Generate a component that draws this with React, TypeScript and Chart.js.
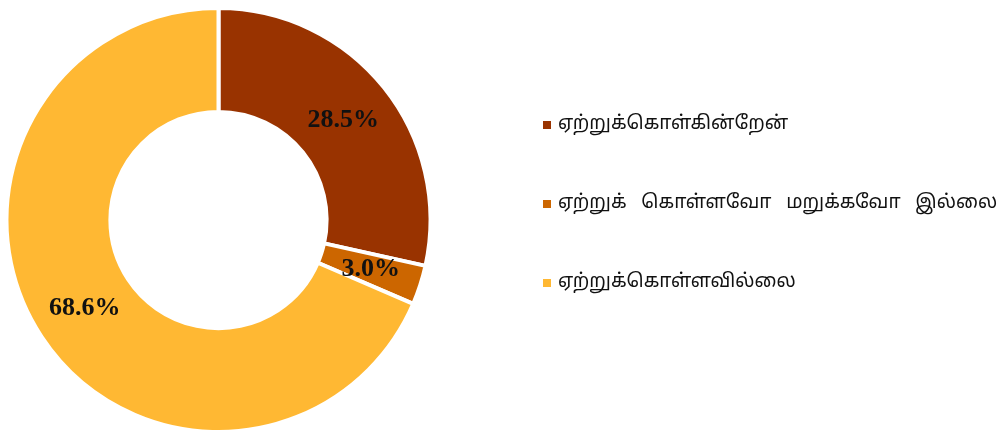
import React, { useEffect, useRef } from "react";
import { Chart, registerables } from "chart.js";

Chart.register(...registerables);

const categories = [
  "ஏற்றுக்கொள்கின்றேன்",
  "ஏற்றுக்   கொள்ளவோ   மறுக்கவோ   இல்லை",
  "ஏற்றுக்கொள்ளவில்லை",
];
const values = [28.5, 3.0, 68.6];
const valueLabels = ["28.5%", "3.0%", "68.6%"];
const colors = ["#993300", "#CC6600", "#FFB833"];

const labelPlugin = {
  id: "sliceLabels",
  afterDatasetsDraw(chart: any) {
    const ctx = chart.ctx;
    const meta = chart.getDatasetMeta(0);
    ctx.save();
    ctx.font = "bold 26px 'Liberation Serif', 'Times New Roman', serif";
    ctx.fillStyle = "#111111";
    ctx.textAlign = "center";
    ctx.textBaseline = "middle";
    meta.data.forEach((arc: any, i: number) => {
      const p = arc.tooltipPosition();
      ctx.fillText(valueLabels[i], p.x, p.y);
    });
    ctx.restore();
  },
};

const legendPlugin = {
  id: "customLegend",
  afterDraw(chart: any) {
    const ctx = chart.ctx;
    const labels = chart.data.labels as string[];
    const bg = chart.data.datasets[0].backgroundColor as string[];
    const x0 = 543;
    const yStart = 125;
    const step = 79;
    ctx.save();
    ctx.font = "19px 'Noto Sans Tamil', 'Latha', 'Noto Sans', sans-serif";
    ctx.textBaseline = "middle";
    ctx.textAlign = "left";
    labels.forEach((lab, i) => {
      const y = yStart + i * step;
      ctx.fillStyle = bg[i];
      ctx.fillRect(x0, y - 4, 8, 8);
      ctx.fillStyle = "#111111";
      ctx.fillText(lab, x0 + 15, y);
    });
    ctx.restore();
  },
};

export default function App() {
  const ref = useRef<HTMLCanvasElement | null>(null);
  useEffect(() => {
    if (!ref.current) return;
    const chart = new Chart(ref.current, {
      type: "doughnut",
      data: {
        labels: categories,
        datasets: [
          {
            data: values,
            backgroundColor: colors,
            borderColor: "#ffffff",
            borderWidth: 4,
          },
        ],
      },
      options: {
        animation: false,
        responsive: true,
        maintainAspectRatio: false,
        cutout: "51%",
        layout: { padding: { left: 4, right: 572, top: 6, bottom: 2 } },
        plugins: {
          legend: { display: false },
          tooltip: { enabled: false },
        },
      },
      plugins: [labelPlugin, legendPlugin],
    });
    return () => chart.destroy();
  }, []);
  return (
    <div style={{ position: "fixed", left: 0, top: 0, width: 1005, height: 436, background: "#fff" }}>
      <canvas ref={ref} />
    </div>
  );
}
